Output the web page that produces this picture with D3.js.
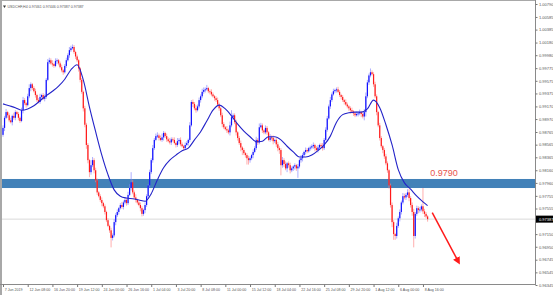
<!DOCTYPE html>
<html lang="en">
<head>
<meta charset="utf-8">
<script src="https://d3js.org/d3.v7.min.js"></script>
<style>
body { margin: 0; background: #fff; }
svg text { font-family: "Liberation Sans", Arial, sans-serif; }
</style>
</head>
<body>
<svg id="chart" width="553" height="295"></svg>
<script>
// USDCHF H4 - closes in points (price x 10000), one per bar
var closes = [
  9883, 9899, 9908, 9903, 9895, 9892, 9902, 9899, 9908, 9905,
  9899, 9894, 9911, 9927, 9922, 9919, 9933, 9946, 9952, 9946,
  9941, 9935, 9927, 9924, 9932, 9935, 9929, 9932, 9959, 9987,
  9990, 9985, 9984, 9981, 9989, 9990, 9985, 9979, 9974, 9971,
  9981, 9990, 9998, 10006, 10009, 10011, 10003, 9996, 9990, 9977,
  9959, 9940, 9914, 9888, 9856, 9832, 9813, 9824, 9832, 9816,
  9800, 9781, 9775, 9769, 9764, 9759, 9750, 9737, 9728, 9721,
  9709, 9713, 9734, 9745, 9750, 9756, 9761, 9758, 9765, 9769,
  9764, 9777, 9788, 9797, 9781, 9773, 9769, 9765, 9761, 9756,
  9747, 9753, 9761, 9775, 9792, 9813, 9832, 9851, 9864, 9870,
  9871, 9867, 9864, 9868, 9875, 9870, 9865, 9862, 9860, 9865,
  9864, 9859, 9856, 9862, 9864, 9857, 9854, 9851, 9856, 9859,
  9864, 9887, 9924, 9921, 9914, 9911, 9917, 9927, 9933, 9940,
  9943, 9944, 9946, 9941, 9940, 9936, 9933, 9930, 9927, 9920,
  9914, 9903, 9889, 9884, 9881, 9879, 9876, 9887, 9900, 9903,
  9892, 9876, 9867, 9859, 9852, 9848, 9843, 9840, 9835, 9832,
  9835, 9840, 9845, 9851, 9864, 9860, 9884, 9887, 9879, 9876,
  9883, 9876, 9864, 9868, 9867, 9862, 9864, 9857, 9851, 9848,
  9824, 9832, 9826, 9819, 9827, 9824, 9816, 9819, 9822, 9824,
  9819, 9822, 9832, 9835, 9840, 9845, 9848, 9846, 9851, 9852,
  9854, 9856, 9851, 9848, 9852, 9856, 9854, 9851, 9864, 9880,
  9898, 9917, 9927, 9936, 9941, 9943, 9944, 9940, 9935, 9932,
  9927, 9924, 9920, 9917, 9914, 9911, 9909, 9906, 9903, 9905,
  9906, 9908, 9905, 9901, 9908, 9933, 9955, 9966, 9971, 9968,
  9952, 9933, 9908, 9887, 9867, 9854, 9848, 9838, 9827, 9816,
  9792, 9761, 9734, 9715, 9712, 9728, 9740, 9750, 9765, 9775,
  9773, 9777, 9781, 9772, 9761, 9750, 9712, 9747, 9756, 9753,
  9754, 9759, 9751, 9747, 9743, 9738.7
];
var firstOpen = 9872;

// wick lengths above / below the body, in points
var wickUp = [
  4,3,5,2,3,4,2,5,3,2, 3,2,4,5,3,2,4,6,3,2, 3,4,2,3,5,2,3,4,3,5,
  4,3,5,2,4,3,2,3,4,2, 3,4,3,5,4,4,3,2,3,2, 2,3,2,4,3,3,2,8,5,3,
  4,3,2,3,4,2,3,2,3,2, 4,3,5,3,4,2,3,5,3,4, 3,5,6,16,4,3,5,2,3,4,
  3,2,4,3,2,4,3,5,3,4, 5,3,4,6,3,2,4,3,5,3, 3,4,2,5,3,4,3,2,4,3,
  2,5,3,4,3,5,3,4,3,5, 4,3,5,2,3,4,3,2,3,4, 3,2,4,3,2,5,3,6,11,3,
  3,4,2,3,4,2,3,2,3,4, 3,2,4,3,5,3,6,4,3,2, 4,3,2,5,3,4,2,3,4,3,
  3,5,3,4,2,3,4,3,2,3, 2,4,3,5,3,2,4,3,2,3, 3,4,2,3,4,2,3,5,3,4,
  4,3,5,3,4,2,3,4,3,2, 3,2,4,3,2,3,4,2,3,4, 3,4,2,3,5,6,4,3,6,3,
  3,4,3,2,4,3,2,3,4,3, 2,3,4,3,2,5,3,4,3,5, 4,3,5,6,3,4,5,3,4,3,
  4,3,29,4,3,2
];
var wickDn = [
  3,5,2,4,3,2,5,3,4,2, 4,3,2,5,3,4,2,3,5,3, 2,4,3,2,3,5,2,4,3,2,
  3,2,4,3,2,5,3,2,3,4, 2,3,2,4,3,2,3,4,3,5, 4,3,5,4,6,5,8,4,3,5,
  3,4,2,3,5,3,4,3,2,4, 15,4,3,5,3,4,2,3,4,3, 4,3,2,4,3,2,4,3,2,5,
  4,3,5,3,4,2,3,4,3,2, 3,4,2,3,5,3,4,2,3,4, 3,2,4,3,5,3,2,4,3,2,
  4,3,2,5,3,4,2,3,4,3, 3,4,2,3,4,3,2,4,3,2, 4,3,5,3,2,4,3,5,3,4,
  3,5,4,3,6,8,3,4,10,7, 4,3,5,2,3,4,3,2,4,3, 3,4,2,3,4,5,3,4,5,6,
  16,4,5,3,6,4,5,3,4,5, 4,15,3,4,5,3,4,3,2,4, 3,4,5,3,4,3,2,4,3,2,
  3,2,4,3,2,3,4,2,3,4, 3,4,2,3,4,5,3,4,3,2, 4,3,5,3,6,7,3,4,3,2,
  4,3,5,3,4,3,5,4,3,4, 5,4,8,9,6,4,3,5,4,3, 3,4,3,5,4,6,18,4,3,5,
  4,3,4,5,3,4
];

// moving average read every 4 bars (last one on the final bar)
var maValues = [
  9921, 9918, 9915, 9911, 9913, 9918, 9926, 9934, 9941, 9949,
  9960, 9975, 9983, 9959, 9916, 9877, 9840, 9809, 9785, 9775,
  9772, 9771, 9769, 9767, 9779, 9801, 9820, 9832, 9840, 9847,
  9851, 9864, 9877, 9894, 9911, 9919, 9913, 9902, 9889, 9878,
  9869, 9861, 9862, 9869, 9869, 9864, 9854, 9845, 9837, 9837,
  9840, 9847, 9856, 9870, 9892, 9904, 9907, 9908, 9908, 9913,
  9927, 9915, 9888, 9856, 9817, 9796, 9786, 9775, 9766, 9760
];

var yTickLabels = ["1.00790", "1.00585", "1.00385", "1.00180", "0.99980", "0.99775",
  "0.99575", "0.99375", "0.99170", "0.98970", "0.98765", "0.98565", "0.98365",
  "0.98160", "0.97960", "0.97755", "0.97555", "0.97350", "0.97150", "0.96950",
  "0.96745", "0.96545", "0.96345"];
var xTickLabels = ["7 Jun 2019", "12 Jun 08:00", "16 Jun 20:00", "19 Jun 12:00",
  "24 Jun 00:00", "26 Jun 16:00", "1 Jul 04:00", "3 Jul 20:00", "8 Jul 08:00",
  "11 Jul 00:00", "15 Jul 12:00", "18 Jul 04:00", "22 Jul 16:00", "25 Jul 08:00",
  "29 Jul 20:00", "1 Aug 12:00", "6 Aug 00:00", "8 Aug 16:00"];

var title = "USDCHF,H4  0.97461 0.97446 0.97387 0.97387";
var lastPrice = 0.97387;
var zone = [0.97879, 0.98022];
var zoneLabel = "0.9790";
var arrowFrom = [278, 0.9749], arrowTo = [295, 0.9671];

var W = 553, H = 295, axisX = 535, axisY = 284.5;
var svg = d3.select("#chart");

var x = d3.scaleLinear().domain([0, closes.length - 1]).range([3, 427.6]);
var y = d3.scaleLinear().domain([0.96345, 1.00790]).range([285, 4]);

var bars = closes.map(function(c, i) {
  var o = i ? closes[i - 1] : firstOpen;
  return {
    i: i, o: o / 1e4, c: c / 1e4,
    h: (Math.max(o, c) + wickUp[i]) / 1e4,
    l: (Math.min(o, c) - wickDn[i]) / 1e4
  };
});

// support / resistance zone
svg.append("rect")
  .attr("x", 2).attr("width", axisX - 2)
  .attr("y", y(zone[1])).attr("height", y(zone[0]) - y(zone[1]))
  .attr("fill", "#4281b8");

// current price line
svg.append("line")
  .attr("x1", 2).attr("x2", axisX)
  .attr("y1", y(lastPrice)).attr("y2", y(lastPrice))
  .attr("stroke", "#d9d9d9").attr("stroke-width", 1);

// candles
var g = svg.append("g");
g.selectAll("line.wick").data(bars).enter().append("line")
  .attr("class", "wick")
  .attr("x1", function(d) { return x(d.i); })
  .attr("x2", function(d) { return x(d.i); })
  .attr("y1", function(d) { return y(d.h); })
  .attr("y2", function(d) { return y(d.l); })
  .attr("stroke", function(d) { return d.c >= d.o ? "#8080ff" : "#ff8080"; })
  .attr("stroke-opacity", 0.7)
  .attr("stroke-width", 0.9);
g.selectAll("rect.body").data(bars).enter().append("rect")
  .attr("class", "body")
  .attr("x", function(d) { return x(d.i) - 0.6; })
  .attr("width", 1.2)
  .attr("y", function(d) { return y(Math.max(d.o, d.c)); })
  .attr("height", function(d) { return Math.max(1, Math.abs(y(d.o) - y(d.c))); })
  .attr("fill", function(d) { return d.c >= d.o ? "#1010ff" : "#ff1a1a"; });

// moving average
var maBars = d3.range(0, closes.length - 3, 4).concat([closes.length - 1]);
svg.append("path")
  .datum(maValues)
  .attr("fill", "none")
  .attr("stroke", "#2323c8")
  .attr("stroke-width", 1.1)
  .attr("d", d3.line()
    .x(function(d, i) { return x(maBars[i]); })
    .y(function(d) { return y(d / 1e4); })
    .curve(d3.curveMonotoneX));

// frame
svg.append("rect").attr("x", 0).attr("y", 0).attr("width", 2).attr("height", H).attr("fill", "#a8a8a8");
svg.append("rect").attr("x", 0).attr("y", 0).attr("width", axisX).attr("height", 1).attr("fill", "#a8a8a8");
svg.append("line").attr("x1", axisX + 0.5).attr("x2", axisX + 0.5).attr("y1", 0).attr("y2", axisY)
  .attr("stroke", "#8a8a8a");
svg.append("line").attr("x1", 0).attr("x2", axisX + 1).attr("y1", axisY).attr("y2", axisY)
  .attr("stroke", "#8a8a8a");

// price axis (the label under the last price tag is hidden, as in MT4)
var yAxis = d3.axisRight(y)
  .tickValues(yTickLabels.map(Number))
  .tickFormat(function(d, i) { return yTickLabels[i]; })
  .tickSize(2).tickPadding(1.5);
var ya = svg.append("g").attr("transform", "translate(" + (axisX + 0.5) + ",0)").call(yAxis);
ya.select(".domain").remove();
ya.selectAll("line").attr("stroke", "#777");
ya.selectAll("text").attr("font-size", 4).attr("fill", "#555")
  .attr("font-family", "Liberation Sans, Arial, sans-serif");
ya.selectAll(".tick").filter(function(d) { return Math.abs(y(d) - y(lastPrice)) < 6; })
  .select("text").remove();

// time axis
var xTickBars = xTickLabels.map(function(d, i) { return i * 16; });
var xAxis = d3.axisBottom(x)
  .tickValues(xTickBars)
  .tickFormat(function(d, i) { return xTickLabels[i]; })
  .tickSize(2.5).tickPadding(1.5);
var xa = svg.append("g").attr("transform", "translate(0," + axisY + ")").call(xAxis);
xa.select(".domain").remove();
xa.selectAll("line").attr("stroke", "#777");
xa.selectAll("text").attr("font-size", 3.6).attr("fill", "#555")
  .attr("text-anchor", "start").attr("dx", 1.2)
  .attr("font-family", "Liberation Sans, Arial, sans-serif");

// last price tag
svg.append("rect")
  .attr("x", axisX + 1).attr("y", y(lastPrice) - 3.5)
  .attr("width", W - axisX - 1).attr("height", 7)
  .attr("fill", "#000");
svg.append("text")
  .attr("x", axisX + 4).attr("y", y(lastPrice) + 1.4)
  .attr("font-size", 4).attr("fill", "#fff")
  .text(d3.format(".5f")(lastPrice));

// title
svg.append("path").attr("d", "M3,5.5 L6,5.5 L4.5,8 Z").attr("fill", "#333");
svg.append("text").attr("x", 7.5).attr("y", 8.3)
  .attr("font-size", 3.6).attr("fill", "#555").text(title);

// zone label
svg.append("text")
  .attr("x", x(arrowFrom[0]) - 2).attr("y", y(zone[1]) - 3)
  .attr("font-size", 9).attr("fill", "#e8534d")
  .text(zoneLabel);

// arrow
svg.append("defs").append("marker")
  .attr("id", "head").attr("viewBox", "0 0 10 10")
  .attr("refX", 6).attr("refY", 5)
  .attr("markerWidth", 5).attr("markerHeight", 5)
  .attr("orient", "auto")
  .append("path").attr("d", "M0,0 L10,5 L0,10 Z").attr("fill", "#ff1a1a");
svg.append("line")
  .attr("x1", x(arrowFrom[0])).attr("y1", y(arrowFrom[1]))
  .attr("x2", x(arrowTo[0])).attr("y2", y(arrowTo[1]))
  .attr("stroke", "#ff1a1a").attr("stroke-width", 1.5)
  .attr("marker-end", "url(#head)");
</script>
</body>
</html>
